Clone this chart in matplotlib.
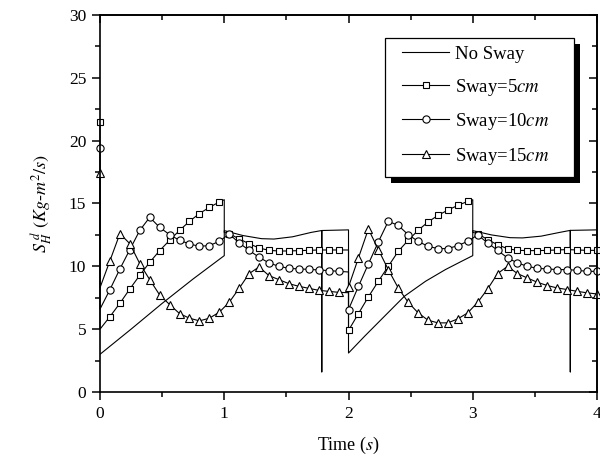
import numpy as np
import matplotlib
matplotlib.use("Agg")
import matplotlib.pyplot as plt
import matplotlib.patheffects as pe
from matplotlib.patches import Rectangle
from matplotlib.ticker import MultipleLocator

plt.rcParams['font.family'] = ['Liberation Serif', 'DejaVu Serif']
plt.rcParams['mathtext.fontset'] = 'stix'

# marker times, one every 0.08 s
t_mark = np.round(np.arange(51) * 0.08, 2)

sway5 = [21.5, 6.0, 7.06, 8.2, 9.29, 10.32, 11.25, 12.07, 12.86, 13.58, 14.2, 14.69, 15.12,
         12.6, 12.18, 11.8, 11.46, 11.27, 11.22, 11.22, 11.25, 11.27, 11.3, 11.3, 11.3,
         4.9, 6.24, 7.57, 8.81, 10.0, 11.19, 12.07, 12.86, 13.53, 14.05, 14.48, 14.85, 15.17,
         12.6, 12.12, 11.72, 11.4, 11.27, 11.25, 11.25, 11.27, 11.3, 11.33, 11.3, 11.27, 11.27]
sway10 = [19.4, 8.15, 9.79, 11.33, 12.86, 13.9, 13.1, 12.52, 12.07, 11.78, 11.59, 11.65, 11.99,
          12.57, 11.86, 11.27, 10.72, 10.27, 10.0, 9.84, 9.79, 9.76, 9.71, 9.66, 9.6,
          6.56, 8.41, 10.19, 11.94, 13.58, 13.26, 12.52, 11.99, 11.59, 11.41, 11.41, 11.65, 11.99,
          12.5, 11.86, 11.27, 10.67, 10.27, 10.0, 9.84, 9.79, 9.74, 9.74, 9.68, 9.6, 9.6]
sway15 = [17.4, 10.45, 12.6, 11.8, 10.21, 8.94, 7.72, 6.96, 6.24, 5.87, 5.66, 5.87, 6.35,
          7.14, 8.25, 9.42, 9.95, 9.26, 8.94, 8.62, 8.41, 8.25, 8.09, 8.01, 7.93,
          8.36, 10.67, 12.97, 11.33, 9.74, 8.28, 7.14, 6.3, 5.71, 5.5, 5.5, 5.82, 6.3,
          7.14, 8.2, 9.42, 10.0, 9.42, 9.07, 8.73, 8.47, 8.28, 8.15, 8.01, 7.89, 7.8]

# extra line points without markers: (insert before index, t, value)
sway5_jumps = [(1, 0.0, 5.0), (13, 1.0, 15.3), (13, 1.0, 12.7), (25, 2.0, 11.3),
               (38, 3.0, 15.3), (38, 3.0, 12.7)]
sway10_jumps = [(1, 0.0, 6.6), (25, 2.0, 9.55)]
sway15_jumps = [(1, 0.0, 8.3), (25, 2.0, 7.9)]

nosway_t = [0.0, 0.25, 0.5, 0.75, 1.0, 1.0, 1.15, 1.3, 1.4, 1.55, 1.7, 1.785, 1.785, 1.785,
            2.0, 2.0, 2.13, 2.29, 2.45, 2.62, 2.78, 2.91, 3.0, 3.0, 3.15, 3.3, 3.4, 3.55,
            3.7, 3.785, 3.785, 3.785, 4.0]
nosway_v = [3.0, 5.0, 7.05, 9.0, 10.85, 12.84, 12.45, 12.2, 12.17, 12.35, 12.7, 12.85, 1.6, 12.85,
            12.9, 3.1, 4.44, 6.03, 7.62, 8.81, 9.74, 10.4, 10.85, 12.84, 12.5, 12.28, 12.26, 12.4,
            12.7, 12.86, 1.6, 12.86, 12.9]

labels = ['No Sway', 'Sway=5$cm$', 'Sway=10$cm$', 'Sway=15$cm$']


def with_jumps(t, v, jumps):
    idx = [j[0] for j in jumps]
    tt = np.insert(t, idx, [j[1] for j in jumps])
    vv = np.insert(np.asarray(v, float), idx, [j[2] for j in jumps])
    keep = np.insert(np.ones(len(t), bool), idx, False)
    return tt, vv, np.flatnonzero(keep).tolist()


def set_ticks(axis, major, minor):
    axis.set_major_locator(MultipleLocator(major))
    axis.set_minor_locator(MultipleLocator(minor))


def main():
    fig = plt.figure(figsize=(6, 4.61), dpi=100)
    ax = fig.add_axes([0.1667, 0.1497, 0.8283, 0.8178])

    ax.plot(nosway_t, nosway_v, color='black', lw=0.8, label=labels[0])

    series = [(sway5, sway5_jumps, 's', 5), (sway10, sway10_jumps, 'o', 5.2),
              (sway15, sway15_jumps, '^', 6)]
    for (vals, jumps, mk, ms), lab in zip(series, labels[1:]):
        tt, vv, every = with_jumps(t_mark, vals, jumps)
        ax.plot(tt, vv, color='black', lw=0.8, marker=mk, ms=ms, mfc='white',
                mec='black', mew=0.8, markevery=every, label=lab, clip_on=False)

    ax.set_xlim(0, 4)
    ax.set_ylim(0, 30)
    set_ticks(ax.xaxis, 1, 0.5)
    set_ticks(ax.yaxis, 5, 2.5)
    ax.tick_params(which='both', direction='out', labelsize=12.5, width=1.1, pad=4)
    ax.tick_params(which='major', length=6)
    ax.tick_params(which='minor', length=3.5)
    for sp in ax.spines.values():
        sp.set_linewidth(1.2)

    # inward ticks on top and right
    top = ax.secondary_xaxis('top')
    right = ax.secondary_yaxis('right')
    set_ticks(top.xaxis, 1, 0.5)
    set_ticks(right.yaxis, 5, 2.5)
    for sec in (top, right):
        sec.tick_params(which='both', direction='in', width=1.1, labeltop=False, labelright=False)
        sec.tick_params(which='major', length=6)
        sec.tick_params(which='minor', length=3.5)
        for sp in sec.spines.values():
            sp.set_linewidth(1.2)

    ax.set_xlabel('Time ($s$)', fontsize=13, labelpad=9)
    ax.set_ylabel(r'$S_H^{\ d}\ (Kg$-$m^2/s)$', fontsize=13, labelpad=10)

    # legend box with a solid black drop shadow
    box = Rectangle((0.573, 0.570), 0.381, 0.369, transform=ax.transAxes, fc='white',
                    ec='black', lw=0.9, zorder=5)
    box.set_path_effects([pe.SimplePatchShadow(offset=(4.5, -4.5), shadow_rgbFace='black',
                                               alpha=1), pe.Normal()])
    ax.add_patch(box)
    leg = ax.legend(loc='upper left', bbox_to_anchor=(0.608, 0.918), fontsize=13.5,
                    frameon=False, borderaxespad=0, borderpad=0, labelspacing=0.72,
                    handlelength=2.5, handletextpad=0.3)
    leg.set_zorder(6)

    fig.savefig('out.png', dpi=100)


if __name__ == '__main__':
    main()
